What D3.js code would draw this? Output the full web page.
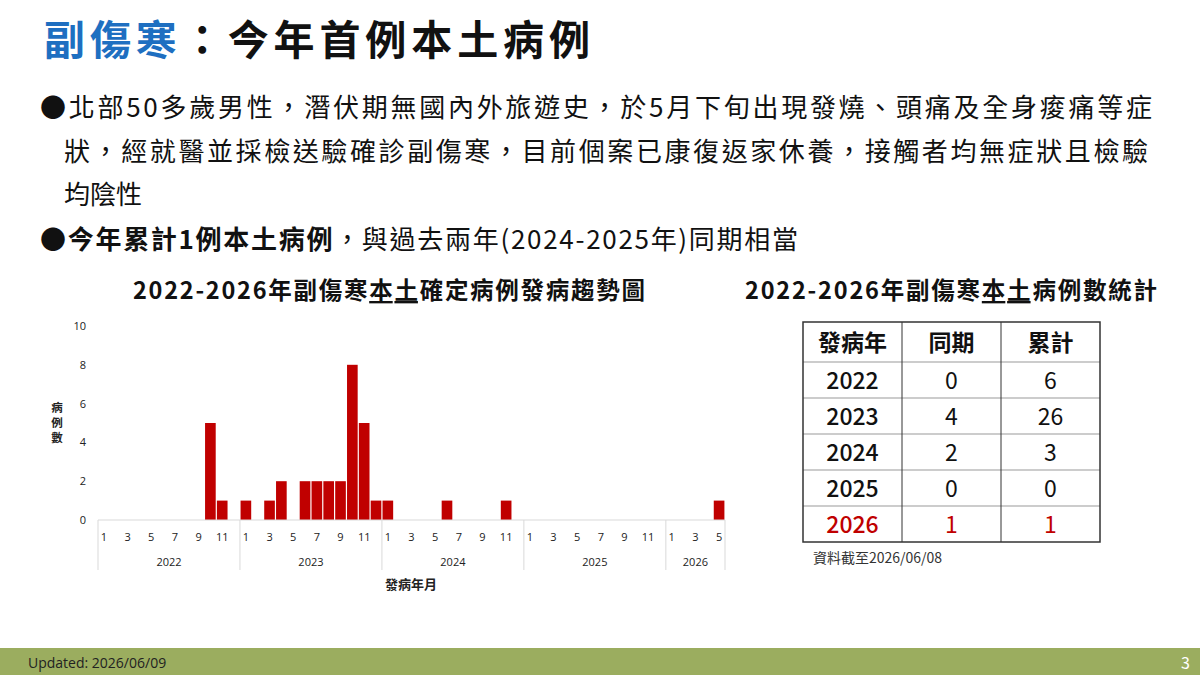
<!DOCTYPE html>
<html><head><meta charset="utf-8">
<script src="https://cdn.jsdelivr.net/npm/d3@7/dist/d3.min.js"></script>
<style>body{margin:0;background:#fff}svg{display:block;font-family:"Noto Sans CJK TC","Noto Sans",sans-serif}</style>
</head><body><svg id="c" width="1200" height="675"></svg>
<script>
const years=[2022,2023,2024,2025,2026];
const monthsPerYear=[12,12,12,12,5];
const cases={"2022-10":5,"2022-11":1,"2023-1":1,"2023-3":1,"2023-4":2,"2023-6":2,"2023-7":2,"2023-8":2,"2023-9":2,"2023-10":8,"2023-11":5,"2023-12":1,"2024-1":1,"2024-6":1,"2024-11":1,"2026-5":1};
const yTicks=[0,2,4,6,8,10];
const tableHead=["發病年","同期","累計"];
const tableYears=["2022","2023","2024","2025","2026"];
const samePeriod=[0,4,2,0,1];
const cumulative=[6,26,3,0,1];

const svg=d3.select("#c");
const t=svg.append("text").attr("x",44).attr("y",55).attr("font-size",41).attr("font-weight","bold").attr("textLength",546).attr("lengthAdjust","spacing");
t.append("tspan").attr("fill","#1e6fc1").text("副傷寒");
t.append("tspan").attr("fill","#111").text("：今年首例本土病例");
const lines=[["●北部50多歲男性，潛伏期無國內外旅遊史，於5月下旬出現發燒、頭痛及全身痠痛等症",40,117,1112],
["狀，經就醫並採檢送驗確診副傷寒，目前個案已康復返家休養，接觸者均無症狀且檢驗",64,161,1084],["均陰性",64,204,0]];
lines.forEach(l=>{const e=svg.append("text").attr("x",l[1]).attr("y",l[2]).attr("font-size",26).attr("fill","#111").text(l[0]);
 if(l[3])e.attr("textLength",l[3]).attr("lengthAdjust","spacing");});
const b2=svg.append("text").attr("x",40).attr("y",249).attr("font-size",26).attr("fill","#111").attr("textLength",758).attr("lengthAdjust","spacing");
b2.append("tspan").attr("font-weight","bold").text("●今年累計1例本土病例");
b2.append("tspan").text("，與過去兩年(2024-2025年)同期相當");
function ttl(x,y,w,a,u,b){const e=svg.append("text").attr("x",x).attr("y",y).attr("font-size",23.5).attr("font-weight","bold").attr("fill","#111").attr("textLength",w).attr("lengthAdjust","spacing");
 e.append("tspan").text(a);e.append("tspan").attr("text-decoration","underline").text(u);e.append("tspan").text(b);}
ttl(133,299,512,"2022-2026年副傷寒","本土","確定病例發病趨勢圖");
ttl(745,299,412,"2022-2026年副傷寒","本土","病例數統計");

const data=[];years.forEach((y,i)=>{for(let m=1;m<=monthsPerYear[i];m++)data.push({y,m,key:y+"-"+m,v:cases[y+"-"+m]||0});});
const x=d3.scaleBand().domain(data.map(d=>d.key)).range([98,725]).paddingInner(0.1).paddingOuter(0.05);
const yS=d3.scaleLinear().domain([0,10]).range([520,326]);
const g=svg.append("g").attr("font-family","Open Sans, sans-serif");
yTicks.forEach(v=>g.append("text").attr("x",86).attr("y",yS(v)+4).attr("text-anchor","end").attr("font-size",11).attr("fill","#222").text(v));
g.selectAll("rect.b").data(data.filter(d=>d.v>0)).join("rect").attr("x",d=>x(d.key)).attr("width",x.bandwidth()).attr("y",d=>yS(d.v)).attr("height",d=>yS(0)-yS(d.v)).attr("fill","#c00000");
g.append("line").attr("x1",98).attr("x2",725).attr("y1",520).attr("y2",520).attr("stroke","#d9d9d9");
data.forEach(d=>{if(d.m%2===1)g.append("text").attr("x",x(d.key)+x.bandwidth()/2).attr("y",541).attr("text-anchor","middle").attr("font-size",11).attr("fill","#222").text(d.m);});
let start=0;years.forEach((y,i)=>{const k0=data[start].key,k1=data[start+monthsPerYear[i]-1].key;
 const x0=(i===0?98:x(k0)-x.step()*0.05),x1=x(k1)+x.bandwidth()+x.step()*0.05;
 g.append("line").attr("x1",x0).attr("x2",x0).attr("y1",520).attr("y2",570).attr("stroke","#d9d9d9");
 g.append("text").attr("x",(x0+x1)/2).attr("y",566).attr("text-anchor","middle").attr("font-size",11).attr("fill","#222").text(y);
 start+=monthsPerYear[i];});
g.append("line").attr("x1",725).attr("x2",725).attr("y1",520).attr("y2",570).attr("stroke","#d9d9d9");
["病","例","數"].forEach((c,i)=>svg.append("text").attr("x",57).attr("y",412+i*15).attr("text-anchor","middle").attr("font-size",11.5).attr("font-weight","bold").attr("fill","#222").text(c));
svg.append("text").attr("x",411).attr("y",589).attr("text-anchor","middle").attr("font-size",13).attr("font-weight","bold").attr("fill","#222").text("發病年月");

const cx=[803,902,1001,1100],rh=[322,362,398,434,470,506,542];
const tb=svg.append("g");
for(let r=0;r<6;r++){for(let c=0;c<3;c++){
 const txt=r===0?tableHead[c]:(c===0?tableYears[r-1]:c===1?samePeriod[r-1]:cumulative[r-1]);
 tb.append("text").attr("x",(cx[c]+cx[c+1])/2).attr("y",(rh[r]+rh[r+1])/2+8.5).attr("text-anchor","middle").attr("font-size",23)
  .attr("font-weight",r===0?"bold":(c===0?"500":"normal")).attr("fill",r===5?"#c00000":"#111").text(txt);}}
rh.slice(1,-1).forEach(y=>tb.append("line").attr("x1",803).attr("x2",1100).attr("y1",y).attr("y2",y).attr("stroke","#999"));
cx.slice(1,-1).forEach(xx=>tb.append("line").attr("x1",xx).attr("x2",xx).attr("y1",322).attr("y2",542).attr("stroke","#333"));
tb.append("rect").attr("x",803).attr("y",322).attr("width",297).attr("height",220).attr("fill","none").attr("stroke","#333").attr("stroke-width",1.5);
svg.append("text").attr("x",813).attr("y",563).attr("font-size",14).attr("fill","#333").text("資料截至2026/06/08");

svg.append("rect").attr("x",0).attr("y",648).attr("width",1200).attr("height",27).attr("fill","#9bad5f");
svg.append("text").attr("x",28).attr("y",668).attr("font-size",14).attr("fill","#222").attr("font-family","Open Sans, sans-serif").text("Updated: 2026/06/09");
svg.append("text").attr("x",1190).attr("y",669).attr("text-anchor","end").attr("font-size",16).attr("fill","#fff").text("3");
</script></body></html>
